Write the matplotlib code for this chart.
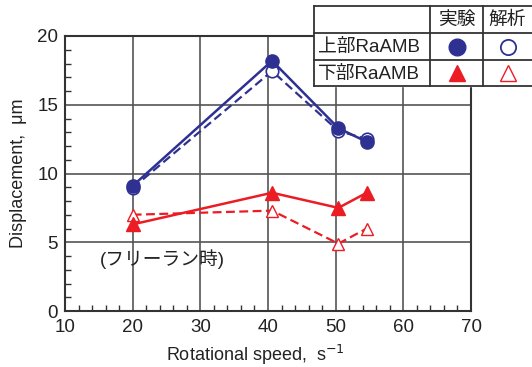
import matplotlib
matplotlib.use("Agg")
import matplotlib.pyplot as plt
from matplotlib.ticker import MultipleLocator

plt.rcParams['font.family'] = ['Liberation Sans', 'Noto Sans CJK JP', 'DejaVu Sans']

speed = [20, 40.6, 50.4, 54.6]
upper_exp = [9.1, 18.2, 13.3, 12.3]
upper_ana = [8.95, 17.45, 13.1, 12.5]
lower_exp = [6.3, 8.6, 7.5, 8.6]
lower_ana = [7.0, 7.3, 4.9, 6.0]

x_ticks = [10, 20, 30, 40, 50, 60, 70]
y_ticks = [0, 5, 10, 15, 20]
row_labels = ['上部RaAMB', '下部RaAMB']
col_labels = ['実験', '解析']
note = '(フリーラン時)'

BLUE = '#2e3192'
RED = '#ec1c24'
GRID = '#555555'
TXT = '#222222'
FAM = ['Liberation Sans', 'Noto Sans CJK JP']

W, H = 532, 367
fig = plt.figure(figsize=(W / 100, H / 100), dpi=100)
L, R, T, B = 65, 471, 36, 311
ax = fig.add_axes([L / W, 1 - B / H, (R - L) / W, (B - T) / H])

ax.plot(speed, upper_ana, color=BLUE, lw=1.6, ls=(0, (4, 2)), marker='o', ms=9,
        mfc='white', mec=BLUE, mew=1.2, zorder=3)
ax.plot(speed, lower_ana, color=RED, lw=1.6, ls=(0, (4, 2)), marker='^', ms=9,
        mfc='white', mec=RED, mew=1.0, zorder=3)
ax.plot(speed, upper_exp, color=BLUE, lw=1.8, marker='o', ms=9.5, mfc=BLUE, mec=BLUE, zorder=4)
ax.plot(speed, lower_exp, color=RED, lw=1.8, marker='^', ms=9.5, mfc=RED, mec=RED, zorder=4)

ax.set_xlim(10, 70)
ax.set_ylim(0, 20)
ax.set_xticks(x_ticks)
ax.set_yticks(y_ticks)
ax.xaxis.set_minor_locator(MultipleLocator(2))
ax.yaxis.set_minor_locator(MultipleLocator(1))
ax.tick_params(which='major', length=0, labelsize=13.5, colors=TXT, pad=5)
ax.tick_params(axis='x', which='major', pad=6)
ax.tick_params(which='minor', direction='in', length=4, width=1, color='#333333')
ax.grid(True, which='major', color=GRID, lw=1.2)
for s in ax.spines.values():
    s.set_color('#333333')
    s.set_linewidth(1.5)
ax.set_axisbelow(True)

ax.set_xlabel('Rotational speed,  s$^{-1}$', fontsize=13, color=TXT)
ax.xaxis.set_label_coords(0.47, -0.115)
ax.set_ylabel('Displacement,  μm', fontsize=13, color=TXT, labelpad=7)

ax.text(15.1, 3.8, note, fontsize=13.5, color=TXT, va='center', ha='left', family=FAM)

# legend table overlay in pixel coordinates
lg = fig.add_axes([0, 0, 1, 1], facecolor='none')
lg.set_xlim(0, W)
lg.set_ylim(H, 0)
lg.axis('off')
x0, x1, x2, x3 = 314, 430, 483, 536
rows = [6, 33, 60, 86]
lg.fill([x0, x3, x3, x0], [rows[0], rows[0], rows[-1], rows[-1]], color='white', zorder=1)
for y in rows:
    lg.plot([x0, x3], [y, y], color='#333333', lw=1.3, zorder=2)
for x in [x0, x1, x2, x3]:
    lg.plot([x, x], [rows[0], rows[-1]], color='#333333', lw=1.3, zorder=2)
for i, c in enumerate(col_labels):
    cx = (x1 + x2) / 2 if i == 0 else (x2 + x3) / 2 - 2
    lg.text(cx, (rows[0] + rows[1]) / 2 + 1, c, fontsize=13.5, ha='center', va='center',
            color=TXT, family=FAM)
for i, r in enumerate(row_labels):
    lg.text(x0 + 4, (rows[i + 1] + rows[i + 2]) / 2 + 1, r, fontsize=13.5, ha='left',
            va='center', color=TXT, family=FAM)
cy1 = (rows[1] + rows[2]) / 2
cy2 = (rows[2] + rows[3]) / 2
ca = (x1 + x2) / 2
cb = (x2 + x3) / 2 - 2
lg.plot([ca], [cy1], marker='o', ms=12, color=BLUE, zorder=3)
lg.plot([cb], [cy1], marker='o', ms=11, mfc='white', mec=BLUE, mew=1.3, zorder=3)
lg.plot([ca], [cy2], marker='^', ms=12, color=RED, zorder=3)
lg.plot([cb], [cy2], marker='^', ms=11, mfc='white', mec=RED, mew=1.0, zorder=3)

fig.savefig('out.png', dpi=100)
